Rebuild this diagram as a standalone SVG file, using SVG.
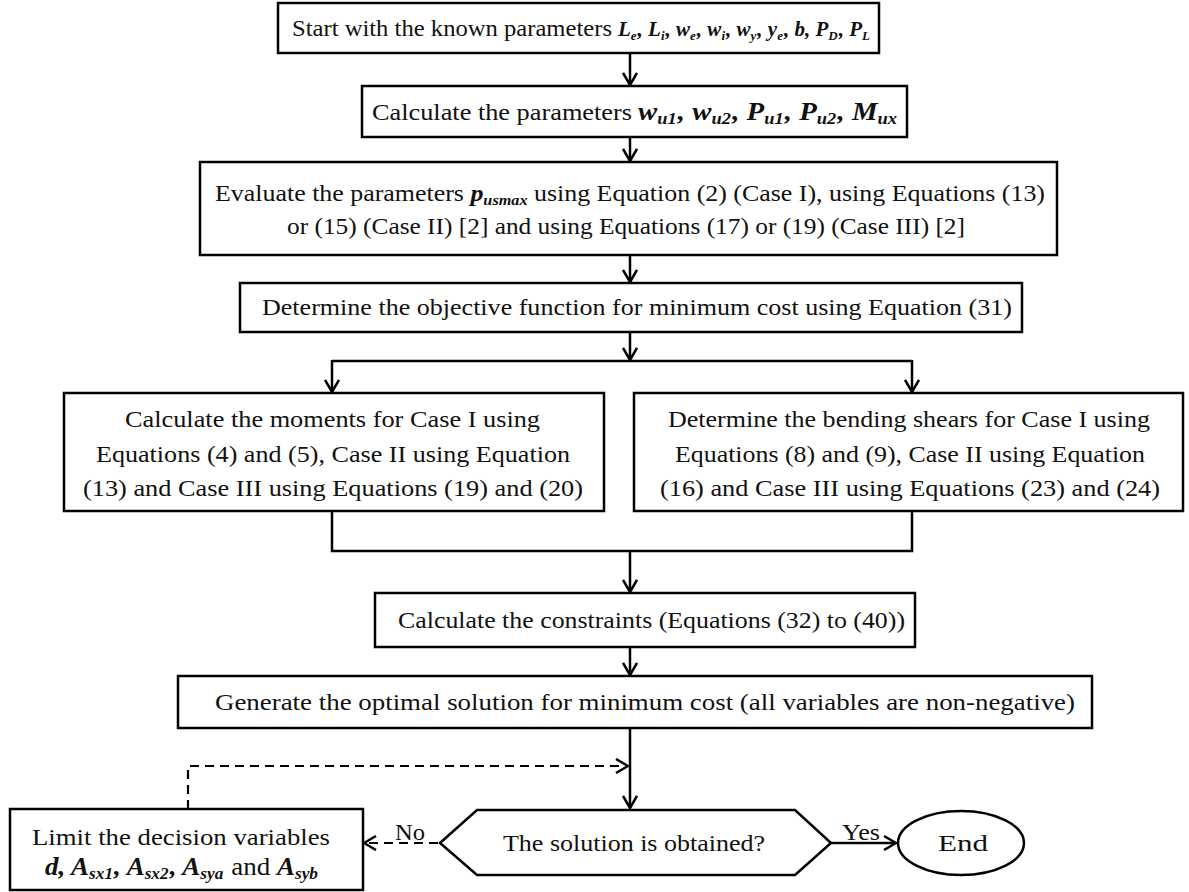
<svg xmlns="http://www.w3.org/2000/svg" width="1189" height="892" viewBox="0 0 1189 892">
<defs>
<style>
.box{fill:#fff;stroke:#000;stroke-width:2.5}
.ln{fill:none;stroke:#000;stroke-width:2.5}
.dash{fill:none;stroke:#000;stroke-width:2.2;stroke-dasharray:9,6}
text{font-family:"Liberation Serif","Times New Roman",serif;font-size:24px;fill:#111}
.v{font-style:italic;font-weight:bold}
.s{font-size:15px}
.vs{font-size:21px}
.vs .s{font-size:13px}
.vm{font-size:25px}
.vm .s{font-size:16px}
</style>
<marker id="ah" viewBox="0 0 14 16" refX="13" refY="8" markerWidth="14" markerHeight="16" markerUnits="userSpaceOnUse" orient="auto">
<path d="M1,1 L13,8 L1,15" fill="none" stroke="#000" stroke-width="2.5"/>
</marker>
</defs>
<rect width="1189" height="892" fill="#fff"/>

<g id="connectors">
<line class="ln" x1="630" y1="53" x2="630" y2="85" marker-end="url(#ah)"/>
<line class="ln" x1="630" y1="137" x2="630" y2="161" marker-end="url(#ah)"/>
<line class="ln" x1="630" y1="255" x2="630" y2="282" marker-end="url(#ah)"/>
<line class="ln" x1="630" y1="332" x2="630" y2="360" marker-end="url(#ah)"/>
<polyline class="ln" points="332,361 912,361"/>
<line class="ln" x1="332" y1="360" x2="332" y2="392" marker-end="url(#ah)"/>
<line class="ln" x1="912" y1="360" x2="912" y2="392" marker-end="url(#ah)"/>
<polyline class="ln" points="332,511 332,551 912,551 912,511"/>
<line class="ln" x1="630" y1="551" x2="630" y2="592" marker-end="url(#ah)"/>
<line class="ln" x1="630" y1="647" x2="630" y2="675" marker-end="url(#ah)"/>
<line class="ln" x1="630" y1="728" x2="630" y2="808" marker-end="url(#ah)"/>
<polyline class="dash" points="188,809 188,766 628,766" marker-end="url(#ah)"/>
<line class="dash" x1="438" y1="843" x2="364" y2="843" marker-end="url(#ah)"/>
<line class="ln" x1="831" y1="843" x2="896" y2="843" marker-end="url(#ah)"/>
<text x="395" y="840" textLength="30" lengthAdjust="spacingAndGlyphs">No</text>
<text x="842" y="840" textLength="38" lengthAdjust="spacingAndGlyphs">Yes</text>
</g>

<g id="n1">
<rect class="box" x="278" y="3" width="601" height="50"/>
<text x="292" y="36" textLength="320" lengthAdjust="spacingAndGlyphs">Start with the known parameters</text>
<text class="vs" x="618" y="36"><tspan class="v">L</tspan><tspan class="v s" dy="4">e</tspan><tspan class="v" dx="1" dy="-4">, L</tspan><tspan class="v s" dy="4">i</tspan><tspan class="v" dx="1" dy="-4">, w</tspan><tspan class="v s" dy="4">e</tspan><tspan class="v" dx="1" dy="-4">, w</tspan><tspan class="v s" dy="4">i</tspan><tspan class="v" dx="1" dy="-4">, w</tspan><tspan class="v s" dy="4">y</tspan><tspan class="v" dx="1" dy="-4">, y</tspan><tspan class="v s" dy="4">e</tspan><tspan class="v" dx="1" dy="-4">, b, P</tspan><tspan class="v s" dy="4">D</tspan><tspan class="v" dx="1" dy="-4">, P</tspan><tspan class="v s" dy="4">L</tspan></text>
</g>

<g id="n2">
<rect class="box" x="362" y="86" width="545" height="51"/>
<text x="372" y="120" textLength="260" lengthAdjust="spacingAndGlyphs">Calculate the parameters</text>
<text class="vm" x="638" y="120" textLength="259" lengthAdjust="spacingAndGlyphs"><tspan class="v">w</tspan><tspan class="v s" dy="4">u1</tspan><tspan class="v" dx="1" dy="-4">, w</tspan><tspan class="v s" dy="4">u2</tspan><tspan class="v" dx="1" dy="-4">, P</tspan><tspan class="v s" dy="4">u1</tspan><tspan class="v" dx="1" dy="-4">, P</tspan><tspan class="v s" dy="4">u2</tspan><tspan class="v" dx="1" dy="-4">, M</tspan><tspan class="v s" dy="4">ux</tspan></text>
</g>

<g id="n3">
<rect class="box" x="200" y="162" width="857" height="93"/>
<text x="215" y="201" textLength="830" lengthAdjust="spacingAndGlyphs">Evaluate the parameters <tspan class="v">p</tspan><tspan class="v s" dy="4">usmax</tspan><tspan dy="-4"> using Equation (2) (Case I), using Equations (13)</tspan></text>
<text x="287" y="234" textLength="678" lengthAdjust="spacingAndGlyphs">or (15) (Case II) [2] and using Equations (17) or (19) (Case III) [2]</text>
</g>

<g id="n4">
<rect class="box" x="240" y="283" width="782" height="49"/>
<text x="262" y="315" textLength="750" lengthAdjust="spacingAndGlyphs">Determine the objective function for minimum  cost using Equation (31)</text>
</g>

<g id="n5">
<rect class="box" x="64" y="393" width="540" height="118"/>
<text x="125" y="427" textLength="415" lengthAdjust="spacingAndGlyphs">Calculate the moments for Case I using</text>
<text x="96" y="462" textLength="474" lengthAdjust="spacingAndGlyphs">Equations (4) and (5), Case II using Equation</text>
<text x="83" y="496" textLength="500" lengthAdjust="spacingAndGlyphs">(13) and Case III using Equations (19) and (20)</text>
</g>

<g id="n6">
<rect class="box" x="634" y="393" width="549" height="118"/>
<text x="668" y="427" textLength="482" lengthAdjust="spacingAndGlyphs">Determine the bending shears for Case I using</text>
<text x="675" y="462" textLength="470" lengthAdjust="spacingAndGlyphs">Equations (8) and (9), Case II using Equation</text>
<text x="660" y="496" textLength="500" lengthAdjust="spacingAndGlyphs">(16) and Case III using Equations (23) and (24)</text>
</g>

<g id="n7">
<rect class="box" x="375" y="593" width="540" height="54"/>
<text x="398" y="628" textLength="507" lengthAdjust="spacingAndGlyphs">Calculate the constraints (Equations (32) to (40))</text>
</g>

<g id="n8">
<rect class="box" x="178" y="676" width="914" height="52"/>
<text x="215" y="710" textLength="860" lengthAdjust="spacingAndGlyphs">Generate the optimal solution for minimum  cost (all variables are non-negative)</text>
</g>

<g id="n9">
<polygon class="box" points="440,843 477,810 795,810 831,843 795,875 477,875"/>
<text x="503" y="851" textLength="262" lengthAdjust="spacingAndGlyphs">The solution is obtained?</text>
</g>

<g id="n10">
<rect class="box" x="10" y="809" width="353" height="81"/>
<text x="32" y="845" textLength="298" lengthAdjust="spacingAndGlyphs">Limit the decision variables</text>
<text class="vm" x="45" y="875" textLength="273" lengthAdjust="spacingAndGlyphs"><tspan class="v">d, A</tspan><tspan class="v s" dy="4">sx1</tspan><tspan class="v" dx="1" dy="-4">, A</tspan><tspan class="v s" dy="4">sx2</tspan><tspan class="v" dx="1" dy="-4">, A</tspan><tspan class="v s" dy="4">sya</tspan><tspan dx="1" dy="-4"> and </tspan><tspan class="v">A</tspan><tspan class="v s" dy="4">syb</tspan></text>
</g>

<g id="n11">
<ellipse class="box" cx="961" cy="843" rx="63" ry="32"/>
<text x="938" y="851" textLength="50" lengthAdjust="spacingAndGlyphs">End</text>
</g>
</svg>
